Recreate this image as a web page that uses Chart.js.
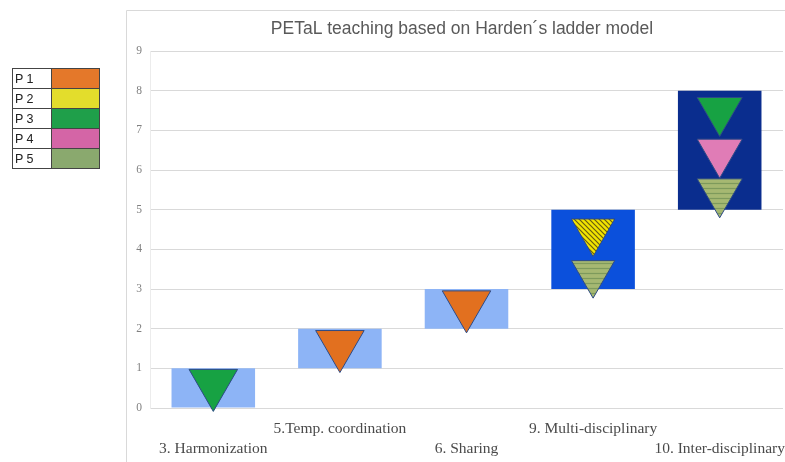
<!DOCTYPE html>
<html>
<head>
<meta charset="utf-8">
<script src="https://cdn.jsdelivr.net/npm/chart.js@4/dist/chart.umd.min.js"></script>
<style>
  html, body { margin: 0; padding: 0; background: #ffffff; }
  #wrap { position: absolute; left: 0; top: 0; width: 785px; height: 462px; }
  #legend { position: absolute; left: 12px; top: 68px; border-collapse: collapse; font-family: "Liberation Sans", Arial, sans-serif; font-size: 12.5px; color: #222; }
  #legend td { border: 1px solid #444; height: 19px; padding: 0; }
  #legend td.lab { width: 36px; padding-left: 2px; }
  #legend td.sw { width: 47px; }
</style>
</head>
<body>
<div id="wrap"><canvas id="c"></canvas></div>
<table id="legend"></table>
<script>
// ---- data ----
const categories = [
  [' ', '3. Harmonization'],
  ['5.Temp. coordination', ' '],
  [' ', '6. Sharing'],
  ['9. Multi-disciplinary', ' '],
  [' ', '10. Inter-disciplinary']
];
const barLow  = [0, 1, 2, 3, 5];
const barHigh = [1, 2, 3, 5, 8];
const seriesNames = ['P 1', 'P 2', 'P 3', 'P 4', 'P 5'];
const p1 = [null, 1.6, 2.6, null, null];
const p2 = [null, null, null, 4.45, null];
const p3 = [0.62, null, null, null, 7.5];
const p4 = [null, null, null, null, 6.45];
const p5 = [null, null, null, 3.4, 5.45];
const yMin = 0, yMax = 9, yStep = 1;
const chartTitle = 'PETaL teaching based on Harden\u00b4s ladder model';

// ---- styles ----
const legendColors = ['#e4782a', '#e3dd2c', '#1f9f4a', '#d465a6', '#8aa96e'];
const barColors = ['#8db4f6', '#8db4f6', '#8db4f6', '#0b50dc', '#0a2d8e'];

function makePattern(bg, fg, kind) {
  const c = document.createElement('canvas');
  c.width = 5; c.height = 5;
  const x = c.getContext('2d');
  x.fillStyle = bg; x.fillRect(0, 0, 5, 5);
  x.strokeStyle = fg; x.lineWidth = 1.2;
  x.beginPath();
  if (kind === 'diag') {
    x.moveTo(-1, -1); x.lineTo(6, 6);
    x.moveTo(-1, 4); x.lineTo(1, 6);
    x.moveTo(4, -1); x.lineTo(6, 1);
  } else {
    x.moveTo(0, 3.5); x.lineTo(5, 3.5);
  }
  x.stroke();
  return x.createPattern(c, 'repeat');
}
const yellowPat = makePattern('#f2e400', '#6a5d10', 'diag');
const sagePat = makePattern('#a6b872', '#7e9a5c', 'horiz');

const pointFills = ['#e2701f', yellowPat, '#17a243', '#e07cb6', sagePat];
const seriesData = [p1, p2, p3, p4, p5];
const radii = [
  [28, 28, 28, 28, 28],
  [25, 25, 25, 25, 25],
  [28, 28, 28, 28, 26],
  [26, 26, 26, 26, 26],
  [26, 26, 26, 25, 26]
];

// legend table
const tbl = document.getElementById('legend');
seriesNames.forEach((n, i) => {
  const tr = document.createElement('tr');
  const a = document.createElement('td'); a.className = 'lab'; a.textContent = n;
  const b = document.createElement('td'); b.className = 'sw'; b.style.background = legendColors[i];
  tr.appendChild(a); tr.appendChild(b); tbl.appendChild(tr);
});

const framePlugin = {
  id: 'frame',
  afterLayout(chart) {
    if (chart.titleBlock) chart.titleBlock.left = 141;
  },
  beforeDraw(chart) {
    const ctx = chart.ctx;
    ctx.save();
    ctx.strokeStyle = '#d9d9d9';
    ctx.lineWidth = 1;
    ctx.beginPath();
    ctx.moveTo(126.5, 462);
    ctx.lineTo(126.5, 10.5);
    ctx.lineTo(785, 10.5);
    ctx.stroke();
    ctx.restore();
  }
};

const datasets = seriesData.map((d, i) => ({
  type: 'line',
  label: seriesNames[i],
  data: d,
  showLine: false,
  clip: false,
  pointStyle: 'triangle',
  pointRotation: 180,
  pointRadius: radii[i],
  pointHoverRadius: radii[i],
  pointBackgroundColor: pointFills[i],
  pointBorderColor: '#2d4a86',
  pointBorderWidth: 1,
  order: 1
}));
datasets.push({
  type: 'bar',
  label: 'levels',
  data: barLow.map((v, i) => [v, barHigh[i]]),
  backgroundColor: barColors,
  borderWidth: 0,
  barPercentage: 0.66,
  categoryPercentage: 1.0,
  order: 10
});

new Chart(document.getElementById('c'), {
  data: { labels: categories, datasets },
  plugins: [framePlugin],
  options: {
    responsive: true,
    maintainAspectRatio: false,
    animation: false,
    layout: { autoPadding: false, padding: { left: 126, top: 10, right: 2, bottom: 0 } },
    plugins: {
      legend: { display: false },
      tooltip: { enabled: false },
      title: {
        display: true,
        text: chartTitle,
        color: '#595959',
        font: { family: '"Liberation Sans", Arial, sans-serif', size: 17.5, weight: 'normal', lineHeight: 1.2 },
        padding: { top: 9, bottom: 11 }
      }
    },
    scales: {
      x: {
        offset: true,
        grid: { display: false, drawTicks: false },
        border: { display: false },
        ticks: {
          autoSkip: false, maxRotation: 0, minRotation: 0,
          color: '#4a4a4a',
          padding: 11.5,
          font: { family: '"Liberation Serif", "Times New Roman", serif', size: 15.5, lineHeight: 1.28 }
        },
        afterFit(s) { s.height = 54; s.paddingLeft = 0; s.paddingRight = 0; }
      },
      y: {
        min: yMin, max: yMax,
        ticks: {
          stepSize: yStep, color: '#808080', padding: 8,
          font: { family: '"Liberation Serif", "Times New Roman", serif', size: 11.5 }
        },
        grid: { color: '#d9d9d9', drawTicks: false },
        border: { display: true, color: '#ececec' },
        afterFit(s) { s.width = 24; }
      }
    }
  }
});
</script>
</body>
</html>
